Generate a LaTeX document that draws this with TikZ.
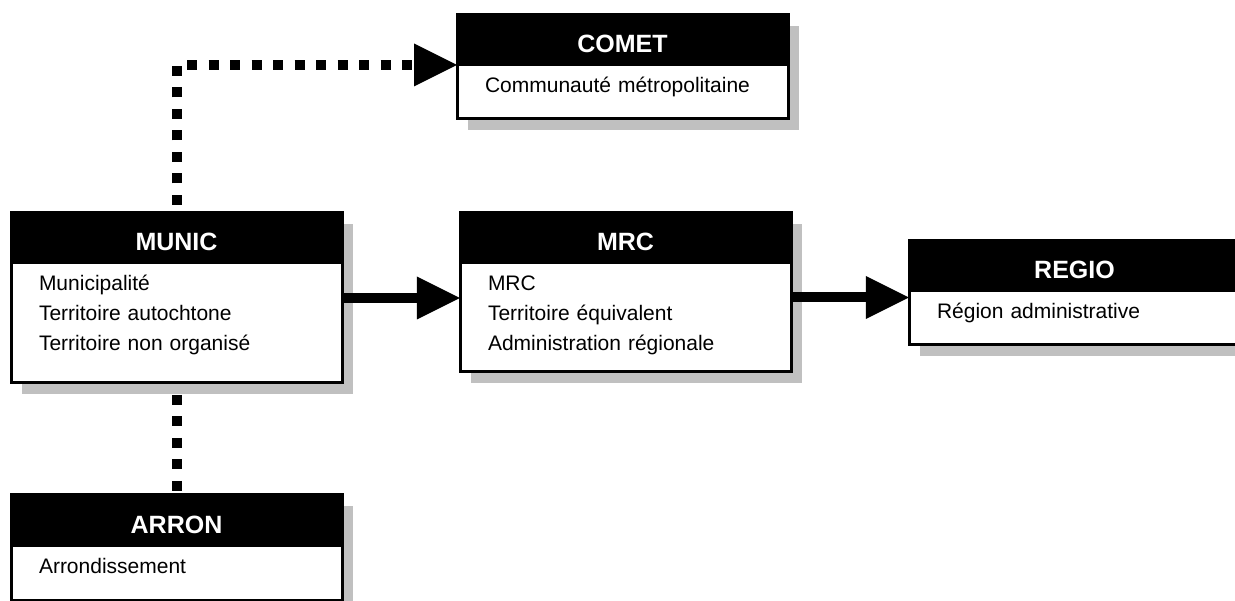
\documentclass[tikz,border=0pt]{standalone}
\usepackage{fontspec}
\setmainfont{Liberation Sans}
\usetikzlibrary{positioning, fit, shadows, arrows.meta}
\definecolor{shadowgray}{RGB}{192,192,192}

\begin{document}
\begin{tikzpicture}
[x=1pt, y=-1pt,
tableshadow/.style={drop shadow={shadow xshift=11pt, shadow yshift=-11pt, fill=shadowgray, opacity=1}},
tablehead/.style={rectangle, draw=black, fill=black, line width=3pt, outer sep=0pt, inner sep=0pt, anchor=north west,
  minimum width=331pt, minimum height=50pt, text height=26pt, text depth=0pt, text=white,
  font=\bfseries\fontsize{25}{30}\selectfont, tableshadow},
tablebody/.style={rectangle, draw=black, fill=white, line width=3pt, outer sep=0pt, inner xsep=28pt, inner ysep=8pt,
  text width=275pt, align=left, text height=20pt, text depth=#1,
  font=\fontsize{21}{30}\selectfont, tableshadow},
link/.style={line width=10pt, dash pattern=on 10pt off 11.5pt},
flow/.style={line width=10pt},
bigtip/.style={-{Triangle[length=43pt, width=43pt, line width=0pt]}}]

\useasboundingbox (0,0) rectangle (1235,601);

% tables
\node[tablehead] (comethead) at (457,15) {COMET};
\node[tablebody=18pt, below=0pt of comethead] (cometbody) {Communauté métropolitaine};

\node[tablehead] (munichead) at (11,213) {MUNIC};
\node[tablebody=84pt, below=0pt of munichead] (municbody) {Municipalité\\Territoire autochtone\\Territoire non organisé};

\node[tablehead] (mrchead) at (460,213) {MRC};
\node[tablebody=73pt, below=0pt of mrchead] (mrcbody) {MRC\\Territoire équivalent\\Administration régionale};

\node[tablehead] (regiohead) at (909,241) {REGIO};
\node[tablebody=18pt, below=0pt of regiohead] (regiobody) {Région administrative};

\node[tablehead] (arronhead) at (11,495) {ARRON};
\node[tablebody=19pt, below=0pt of arronhead] (arronbody) {Arrondissement};

\node[fit=(munichead)(municbody), inner sep=0pt] (munic) {};
\node[fit=(mrchead)(mrcbody), inner sep=0pt] (mrc) {};
\node[fit=(regiohead)(regiobody), inner sep=0pt] (regio) {};

% links
\draw[link, bigtip, dash phase=13.5pt] (munichead.north) |- (comethead.south west);
\draw[link, dash phase=9.5pt] (municbody.south) -- (arronhead.north);
\draw[flow, bigtip] (munic.east) -- (munic.east -| mrc.west);
\draw[flow, bigtip] ([yshift=-5pt]mrc.east) -- ([yshift=-5pt]mrc.east -| regio.west);
\end{tikzpicture}
\end{document}
